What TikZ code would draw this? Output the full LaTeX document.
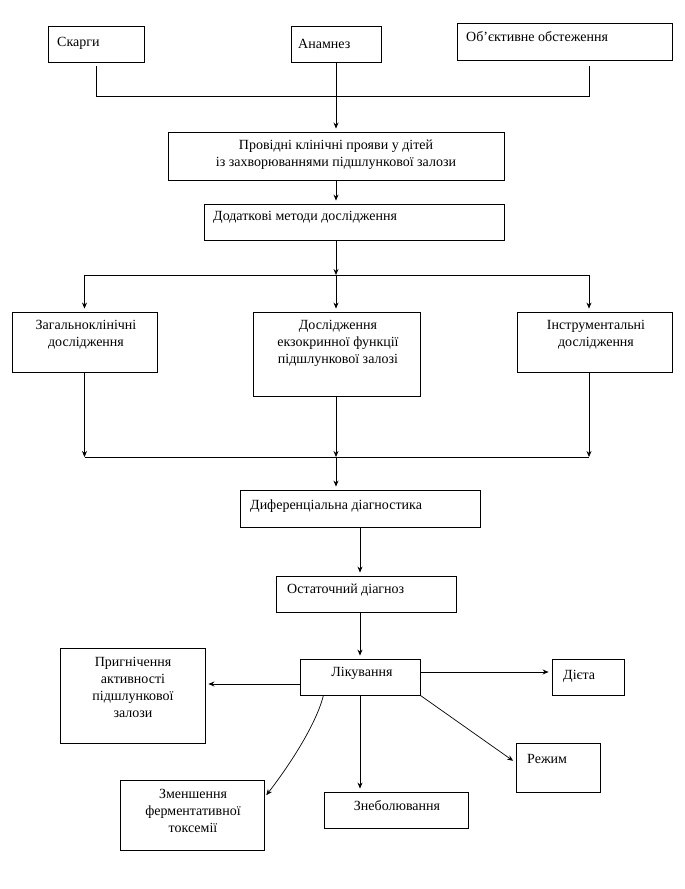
\documentclass[tikz,border=0pt]{standalone}
\usepackage{fontspec}
\setmainfont{Liberation Serif}
\usetikzlibrary{arrows.meta,calc}
\begin{document}
\begin{tikzpicture}[x=1pt,y=-1pt,
  box/.style={draw, line width=0.9pt, inner sep=0pt},
  txt/.style={inner sep=0pt, font=\fontsize{14}{17}\selectfont, align=center},
  ln/.style={line width=0.9pt},
  tip/.style={-{Stealth[length=6pt,width=5pt,inset=2pt]}},
  arr/.style={line width=0.7pt, tip, shorten >=3pt},
  arrj/.style={line width=0.7pt, tip}]
\useasboundingbox[fill=white] (0,0) rectangle (685,889);

% boxes
\node[box, minimum width=96pt, minimum height=36pt] (skarhy) at (96,44) {};
\node[box, minimum width=90pt, minimum height=36pt] (anam) at (336,44) {};
\node[box, minimum width=215pt, minimum height=37pt] (obj) at (564.5,41.5) {};
\node[box, minimum width=336pt, minimum height=48pt] (prov) at (336,156) {};
\node[box, minimum width=300pt, minimum height=36pt] (dod) at (354,222) {};
\node[box, minimum width=145pt, minimum height=60pt] (zah) at (84.5,342) {};
\node[box, minimum width=167pt, minimum height=84pt] (dos) at (336.5,354) {};
\node[box, minimum width=155pt, minimum height=60pt] (instr) at (594.5,342) {};
\node[box, minimum width=240pt, minimum height=37pt] (dyf) at (360,508.5) {};
\node[box, minimum width=180pt, minimum height=36pt] (ost) at (366,594) {};
\node[box, minimum width=145pt, minimum height=95pt] (pryh) at (132.5,695.5) {};
\node[box, minimum width=120pt, minimum height=36pt] (lik) at (360,677) {};
\node[box, minimum width=72pt, minimum height=36pt] (dieta) at (588,677) {};
\node[box, minimum width=84pt, minimum height=49pt] (rezh) at (558,767.5) {};
\node[box, minimum width=144pt, minimum height=36pt] (zneb) at (396,810) {};
\node[box, minimum width=144pt, minimum height=70pt] (zmen) at (192,815) {};

% texts
\node[txt, anchor=west] (tskarhy) at (57,43) {Скарги};
\node[txt, anchor=west] (tanam) at (298,44) {Анамнез};
\node[txt, anchor=west] (tobj) at (466,37) {Об’єктивне обстеження};
\node[txt] (tprov) at (336,154.5) {Провідні клінічні прояви у дітей\\із захворюваннями підшлункової залози};
\node[txt, anchor=west] (tdod) at (213,217) {Додаткові методи дослідження};
\node[txt] (tzah) at (86,334.5) {Загальноклінічні\\дослідження};
\node[txt] (tdos) at (338,343) {Дослідження\\екзокринної функції\\підшлункової залозі};
\node[txt] (tinstr) at (596,334.5) {Інструментальні\\дослідження};
\node[txt, anchor=west] (tdyf) at (250,506) {Диференціальна діагностика};
\node[txt, anchor=west] (tost) at (287,590) {Остаточний діагноз};
\node[txt] (tlik) at (362,673) {Лікування};
\node[txt] (tpryh) at (133,687.5) {Пригнічення\\активності\\підшлункової\\залози};
\node[txt, anchor=west] (tdieta) at (563,676) {Дієта};
\node[txt, anchor=west] (trezh) at (527,759) {Режим};
\node[txt] (tzneb) at (397,806) {Знеболювання};
\node[txt] (tzmen) at (193,811) {Зменшення\\ферментативної\\токсемії};

% top junction
\coordinate (l1) at (96,66);
\coordinate (r1) at (589,66);
\coordinate (h1l) at (96,96);
\coordinate (h1r) at (589,96);
\draw[ln] (l1) -- (h1l) -- (h1r) -- (r1);
\draw[arr] (anam.south) -- (prov.north);
\draw[arr] (prov.south) -- (prov.south |- dod.north);

% second junction
\coordinate (j2) at (336,275);
\coordinate (j2l) at (84.5,275);
\coordinate (j2r) at (589,275);
\draw[arrj] (prov.south |- dod.south) -- (j2);
\draw[ln] (j2l) -- (j2r);
\draw[arr] (j2l) -- (zah.north);
\draw[arr] (j2) -- (j2 |- dos.north);
\draw[arr] (j2r) -- (j2r |- instr.north);

% third junction
\coordinate (j3) at (336,457);
\coordinate (j3l) at (84.5,457);
\coordinate (j3r) at (589,457);
\draw[arrj] (zah.south) -- (j3l);
\draw[arrj] (j3 |- dos.south) -- (j3);
\draw[arrj] (j3r |- instr.south) -- (j3r);
\draw[ln] (j3l) -- (j3r);
\draw[arr] (j3) -- (j3 |- dyf.north);

% lower chain
\draw[arr] (dyf.south) -- (dyf.south |- ost.north);
\draw[arr] (dyf.south |- ost.south) -- (lik.north);

% treatment branches
\coordinate (likw) at ([yshift=-7pt]lik.west);
\coordinate (like) at ([yshift=5pt]lik.east);
\coordinate (liks) at (323.5,695);
\coordinate (rezht) at ([yshift=-20pt]rezh.north west);
\coordinate (zment) at ([yshift=-18pt]zmen.north east);
\draw[arr] (likw) -- (pryh.east |- likw);
\draw[arr] (like) -- (dieta.west |- like);
\draw[arr] (lik.south east) -- (rezht);
\draw[arr] (lik.south) -- (lik.south |- zneb.north);
\draw[arr] (liks) .. controls (317,722) and (292,762) .. (zment);
\end{tikzpicture}
\end{document}
